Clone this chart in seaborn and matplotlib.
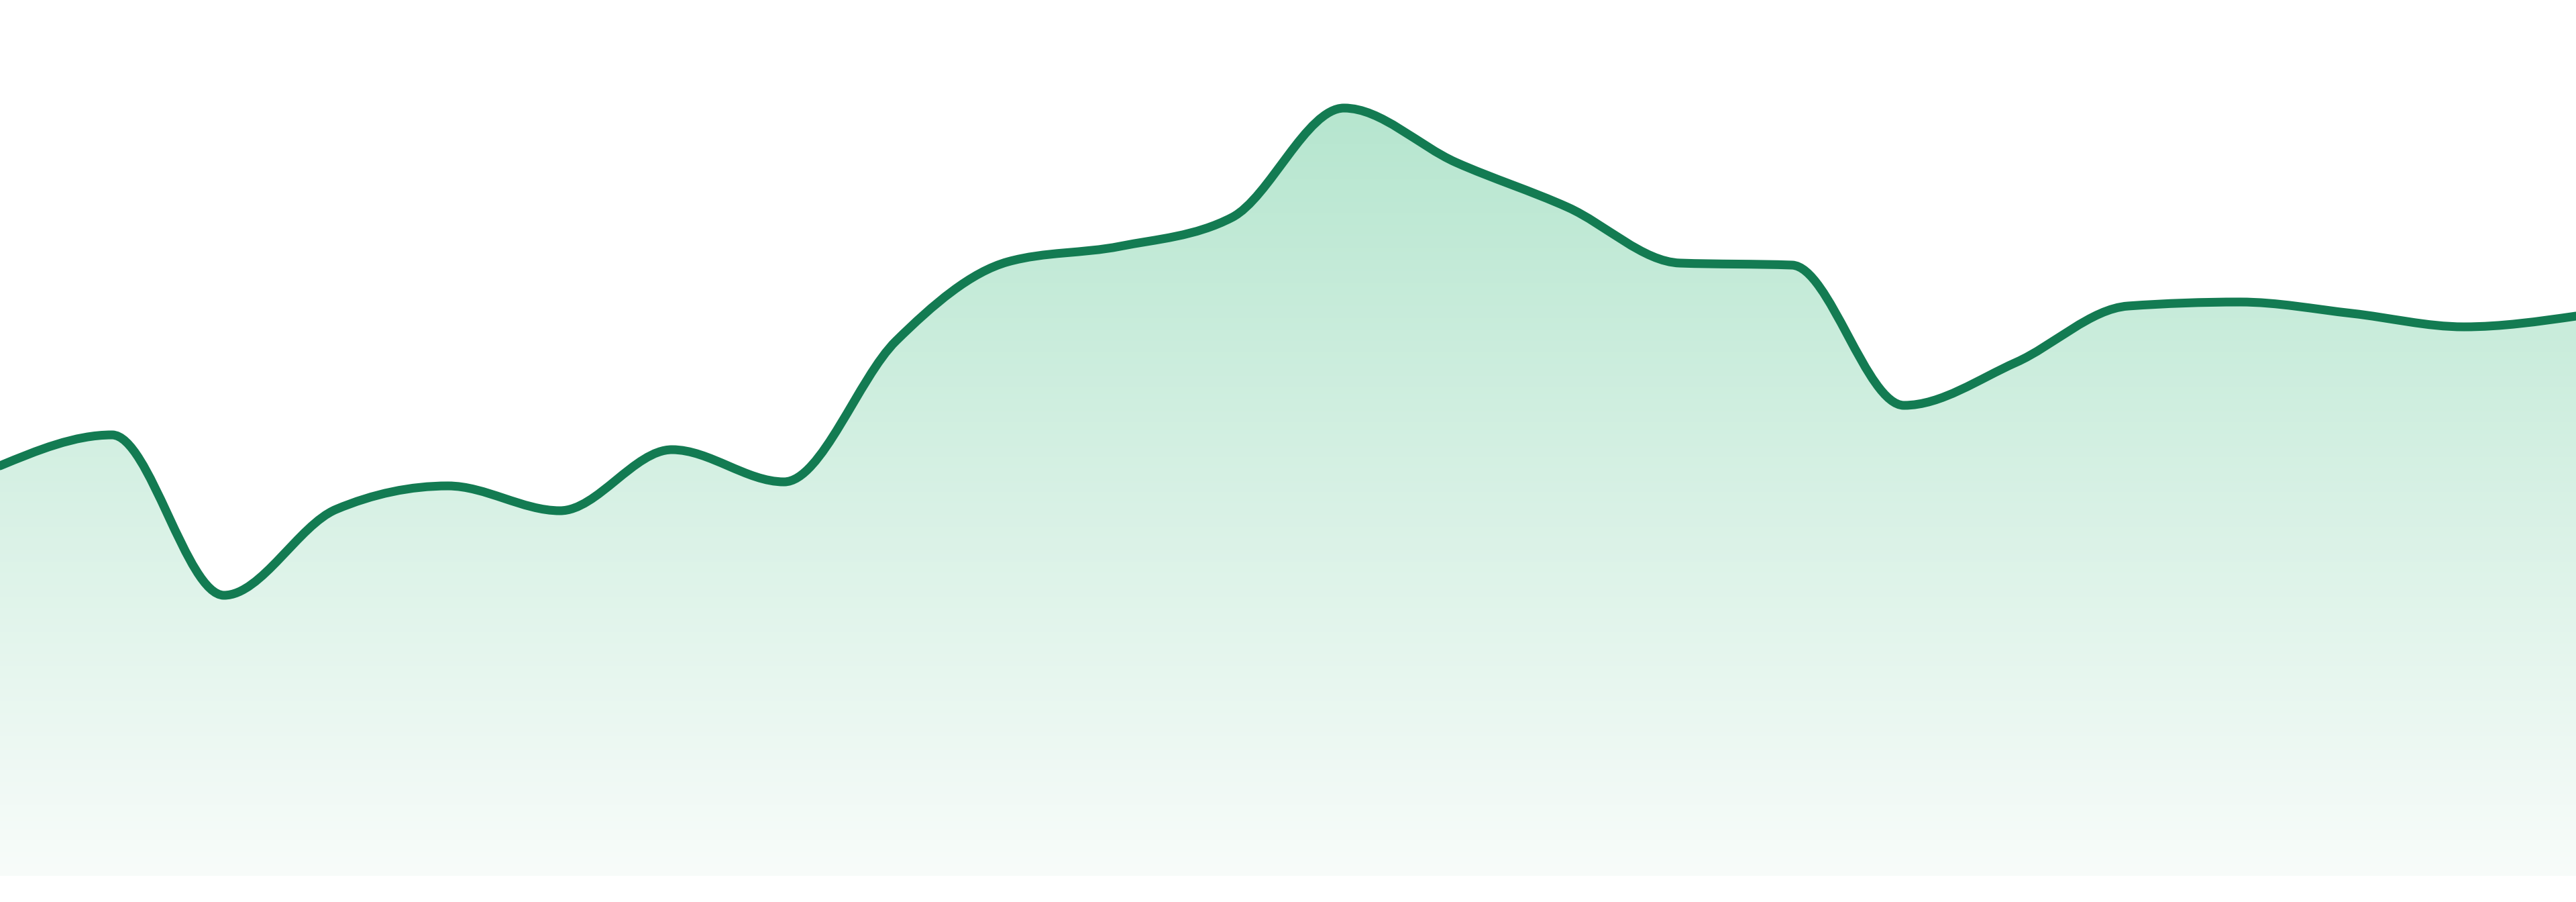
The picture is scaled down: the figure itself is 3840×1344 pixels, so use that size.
import numpy as np
import pandas as pd
import seaborn as sns
import matplotlib
matplotlib.use("Agg")
import matplotlib.pyplot as plt
from matplotlib.path import Path
from matplotlib.patches import PathPatch

# ---- data ----
periods = list(range(24))
values = [61.1, 65.7, 41.8, 54.6, 58.1, 54.4, 63.5, 58.7, 79.7, 91.5, 93.8, 98.1,
          114.4, 106.3, 99.6, 91.3, 91.0, 70.1, 76.5, 84.9, 85.5, 83.8, 81.8, 83.4]
y_max = 130.5

line_color = "#137b52"
fill_top = (182, 230, 207)
fill_bottom = (248, 252, 250)

df = pd.DataFrame({"period": periods, "value": values})

sns.set_theme(style="white")
fig = plt.figure(figsize=(38.4, 13.44), dpi=100)
ax = fig.add_axes([0, 39 / 1344, 1, 1305 / 1344])
ax.set_xlim(df["period"].min(), df["period"].max())
ax.set_ylim(0, y_max)
ax.axis("off")


def monotone_tangents(x, y):
    x = np.asarray(x, float)
    y = np.asarray(y, float)
    n = len(x)
    h = np.diff(x)
    s = np.diff(y) / h
    t = np.zeros(n)
    for i in range(1, n - 1):
        p = (s[i - 1] * h[i] + s[i] * h[i - 1]) / (h[i - 1] + h[i])
        t[i] = (np.sign(s[i - 1]) + np.sign(s[i])) * min(abs(s[i - 1]), abs(s[i]), 0.5 * abs(p))
    t[0] = (3 * s[0] - t[1]) / 2
    t[-1] = (3 * s[-1] - t[-2]) / 2
    return t


def curve_vertices(x, y):
    t = monotone_tangents(x, y)
    verts = [(x[0], y[0])]
    codes = [Path.MOVETO]
    for i in range(len(x) - 1):
        dx = (x[i + 1] - x[i]) / 3
        verts += [(x[i] + dx, y[i] + dx * t[i]),
                  (x[i + 1] - dx, y[i + 1] - dx * t[i + 1]),
                  (x[i + 1], y[i + 1])]
        codes += [Path.CURVE4] * 3
    return verts, codes


xs = df["period"].to_numpy(float)
ys = df["value"].to_numpy(float)
verts, codes = curve_vertices(xs, ys)

# gradient area fill
fill_verts = verts + [(xs[-1], 0), (xs[0], 0), (xs[0], ys[0])]
fill_codes = codes + [Path.LINETO, Path.LINETO, Path.CLOSEPOLY]
fill_patch = PathPatch(Path(fill_verts, fill_codes), facecolor="none", edgecolor="none",
                       transform=ax.transData)
ax.add_patch(fill_patch)

n = 512
frac = np.linspace(0, 1, n)[:, None]
top = np.array(fill_top) / 255
bot = np.array(fill_bottom) / 255
grad = bot[None, :] * (1 - frac) + top[None, :] * frac
grad = grad[:, None, :]
im = ax.imshow(grad, extent=[xs[0], xs[-1], 0, ys.max()], origin="lower",
               aspect="auto", interpolation="bicubic", zorder=1)
im.set_clip_path(fill_patch)

# smooth line
line_patch = PathPatch(Path(verts, codes), facecolor="none", edgecolor=line_color,
                       linewidth=9.4, capstyle="round", joinstyle="round", zorder=3,
                       transform=ax.transData)
ax.add_patch(line_patch)

ax.set_xlim(xs[0], xs[-1])
ax.set_ylim(0, y_max)
fig.savefig("out.png", dpi=100, facecolor="white")
